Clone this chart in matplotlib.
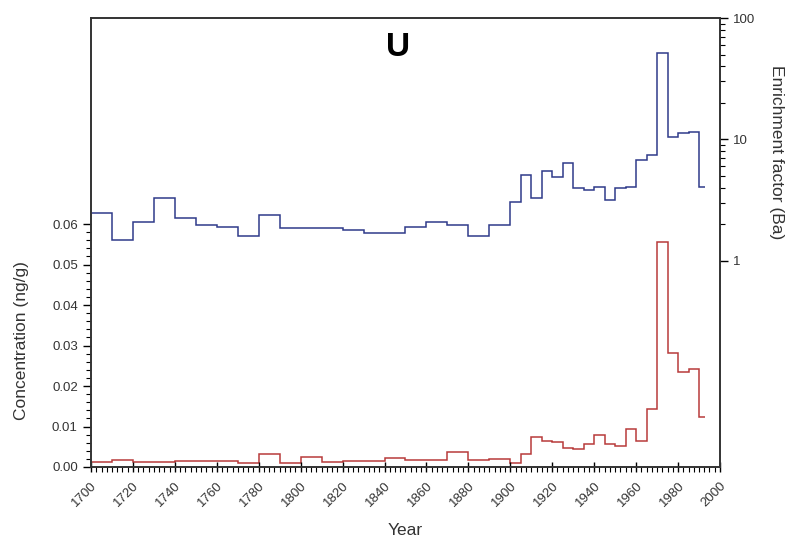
import matplotlib
matplotlib.use("Agg")
import matplotlib.pyplot as plt
from matplotlib.ticker import FixedLocator, NullFormatter

plt.rcParams['font.family'] = ['Liberation Sans', 'DejaVu Sans']

# bin edges (years)
edges = [1700, 1710, 1720, 1730, 1740, 1750, 1760, 1770, 1780, 1790, 1800,
         1810, 1820, 1830, 1840, 1850, 1860, 1870, 1880, 1890, 1900,
         1905, 1910, 1915, 1920, 1925, 1930, 1935, 1940, 1945, 1950,
         1955, 1960, 1965, 1970, 1975, 1980, 1985, 1990, 1993]

# U concentration (ng/g), left axis
conc = [0.00119, 0.00178, 0.00129, 0.00119, 0.00153, 0.00136, 0.00136, 0.00095,
        0.00318, 0.00103, 0.00252, 0.00111, 0.00153, 0.00136, 0.00218, 0.00173,
        0.00173, 0.00363, 0.00180, 0.00205,
        0.00091, 0.00313, 0.00733, 0.00642, 0.00610, 0.00477, 0.00436, 0.00568,
        0.00782, 0.00576, 0.00519, 0.00947, 0.00642, 0.0143, 0.0556, 0.0281,
        0.0234, 0.0241, 0.0123]

# enrichment factor (Ba), right log axis
ef = [2.47, 1.49, 2.07, 3.29, 2.27, 1.98, 1.88, 1.59, 2.39, 1.87, 1.87, 1.87,
      1.78, 1.69, 1.69, 1.88, 2.07, 1.97, 1.59, 1.97,
      3.06, 5.10, 3.26, 5.45, 4.86, 6.39, 3.94, 3.80, 4.05, 3.18, 3.94, 4.05,
      6.80, 7.49, 51.9, 10.47, 11.3, 11.5, 4.05]

fig = plt.figure(figsize=(7.86, 5.38), dpi=100)
ax = fig.add_axes([0.1158, 0.132, 0.8002, 0.8345])
ax2 = ax.twinx()

ax.stairs(conc, edges, baseline=None, color='#b83a3a', lw=1.1)
ax2.stairs(ef, edges, baseline=None, color='#2f3a8a', lw=1.1)

ax.set_xlim(1700, 2000)
ax.set_ylim(0, 0.1109)
ax2.set_yscale('log')
ax2.set_ylim(0.02, 100)

# x ticks
ax.set_xticks(range(1700, 2001, 20))
ax.xaxis.set_minor_locator(FixedLocator([1700 + 2.5 * i for i in range(121)]))
ax.set_xticklabels([str(y) for y in range(1700, 2001, 20)], rotation=45,
                   ha='right', rotation_mode='anchor', fontsize=9.5, color='#333333')
ax.tick_params(axis='x', which='major', direction='inout', length=7, width=1, pad=6)
ax.tick_params(axis='x', which='minor', direction='out', length=3.5, width=0.8)

# left y ticks
ax.set_yticks([0, 0.01, 0.02, 0.03, 0.04, 0.05, 0.06])
ax.set_yticklabels(['0.00', '0.01', '0.02', '0.03', '0.04', '0.05', '0.06'],
                   fontsize=9.5, color='#333333')
ax.yaxis.set_minor_locator(FixedLocator([0.002 * i for i in range(31)]))
ax.tick_params(axis='y', which='major', direction='out', length=6, width=1)
ax.tick_params(axis='y', which='minor', direction='out', length=3.5, width=0.8)

# right y ticks
ax2.yaxis.set_major_locator(FixedLocator([1, 10, 100]))
ax2.set_yticklabels(['1', '10', '100'], fontsize=9.5, color='#333333')
ax2.yaxis.set_minor_locator(FixedLocator([m * d for d in (1, 10) for m in range(2, 10)]))
ax2.yaxis.set_minor_formatter(NullFormatter())
ax2.tick_params(axis='y', which='major', direction='out', length=6, width=1)
ax2.tick_params(axis='y', which='minor', direction='out', length=3.5, width=0.8)

for a in (ax, ax2):
    for s in a.spines.values():
        s.set_linewidth(1.2)
        s.set_color('#333333')

ax.set_xlabel('Year', fontsize=12.5, color='#333333')
ax.xaxis.set_label_coords(0.499, -0.125)
ax.set_ylabel('Concentration (ng/g)', fontsize=12.5, color='#333333',
              va='center', ha='center')
ax.yaxis.set_label_coords(-0.11, 0.282)
ax2.set_ylabel('Enrichment factor (Ba)', fontsize=12.5, color='#333333', rotation=270,
               va='center', ha='center')
ax2.yaxis.set_label_coords(1.09, 0.702)

fig.text(398 / 786, 1 - 47 / 538, 'U', fontsize=24, fontweight='bold',
         ha='center', va='center')

fig.savefig('out.png', dpi=100)
